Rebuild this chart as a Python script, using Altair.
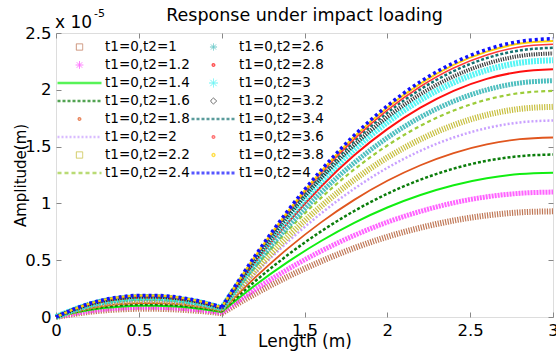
import altair as alt
import pandas as pd

# ---------------- data (amplitude in units of 1e-5 m) ----------------
X_GRID = [0, 0.1, 0.2, 0.3, 0.4, 0.5, 0.6, 0.7, 0.8, 0.9, 1.0,
          1.2, 1.4, 1.6, 1.8, 2.0, 2.2, 2.4, 2.6, 2.8, 3.0]

SERIES = ["t1=0,t2=1", "t1=0,t2=1.2", "t1=0,t2=1.4", "t1=0,t2=1.6",
          "t1=0,t2=1.8", "t1=0,t2=2", "t1=0,t2=2.2", "t1=0,t2=2.4",
          "t1=0,t2=2.6", "t1=0,t2=2.8", "t1=0,t2=3", "t1=0,t2=3.2",
          "t1=0,t2=3.4", "t1=0,t2=3.6", "t1=0,t2=3.8", "t1=0,t2=4"]

AMP_T2_1_0 = [0, 0.024, 0.045, 0.059, 0.068, 0.072, 0.072, 0.068, 0.060, 0.049, 0.033, 0.203, 0.356, 0.490, 0.607, 0.706, 0.786, 0.849, 0.894, 0.921, 0.930]
AMP_T2_1_2 = [0, 0.029, 0.053, 0.070, 0.080, 0.085, 0.085, 0.081, 0.071, 0.058, 0.039, 0.241, 0.421, 0.580, 0.718, 0.835, 0.930, 1.005, 1.058, 1.089, 1.100]
AMP_T2_1_4 = [0, 0.034, 0.061, 0.081, 0.093, 0.099, 0.099, 0.094, 0.083, 0.067, 0.044, 0.277, 0.485, 0.669, 0.829, 0.964, 1.074, 1.160, 1.221, 1.258, 1.270]
AMP_T2_1_6 = [0, 0.038, 0.069, 0.091, 0.104, 0.111, 0.111, 0.105, 0.093, 0.075, 0.050, 0.312, 0.547, 0.754, 0.933, 1.085, 1.209, 1.306, 1.375, 1.416, 1.430]
AMP_T2_1_8 = [0, 0.042, 0.076, 0.101, 0.116, 0.123, 0.123, 0.117, 0.103, 0.084, 0.055, 0.345, 0.604, 0.833, 1.031, 1.199, 1.336, 1.443, 1.519, 1.565, 1.580]
AMP_T2_2_0 = [0, 0.046, 0.083, 0.110, 0.126, 0.134, 0.134, 0.127, 0.113, 0.091, 0.061, 0.378, 0.662, 0.912, 1.129, 1.313, 1.463, 1.580, 1.663, 1.713, 1.730]
AMP_T2_2_2 = [0, 0.049, 0.089, 0.118, 0.135, 0.144, 0.144, 0.137, 0.121, 0.098, 0.065, 0.404, 0.708, 0.975, 1.207, 1.404, 1.564, 1.689, 1.779, 1.832, 1.850]
AMP_T2_2_4 = [0, 0.052, 0.095, 0.126, 0.145, 0.154, 0.154, 0.146, 0.129, 0.105, 0.070, 0.435, 0.761, 1.049, 1.299, 1.510, 1.683, 1.817, 1.913, 1.971, 1.990]
AMP_T2_2_6 = [0, 0.055, 0.100, 0.132, 0.151, 0.161, 0.161, 0.153, 0.135, 0.109, 0.073, 0.454, 0.796, 1.097, 1.357, 1.578, 1.759, 1.899, 2.000, 2.060, 2.080]
AMP_T2_2_8 = [0, 0.057, 0.105, 0.139, 0.159, 0.169, 0.169, 0.161, 0.142, 0.115, 0.076, 0.476, 0.833, 1.149, 1.423, 1.654, 1.843, 1.991, 2.096, 2.159, 2.180]
AMP_T2_3_0 = [0, 0.060, 0.109, 0.144, 0.165, 0.175, 0.175, 0.166, 0.147, 0.119, 0.079, 0.493, 0.864, 1.191, 1.475, 1.715, 1.911, 2.064, 2.173, 2.238, 2.260]
AMP_T2_3_2 = [0, 0.061, 0.112, 0.148, 0.169, 0.180, 0.180, 0.171, 0.151, 0.122, 0.081, 0.506, 0.887, 1.223, 1.514, 1.760, 1.962, 2.118, 2.230, 2.298, 2.320]
AMP_T2_3_4 = [0, 0.063, 0.114, 0.151, 0.173, 0.184, 0.184, 0.175, 0.155, 0.125, 0.083, 0.518, 0.906, 1.249, 1.547, 1.798, 2.004, 2.164, 2.279, 2.347, 2.370]
AMP_T2_3_6 = [0, 0.063, 0.115, 0.153, 0.175, 0.186, 0.186, 0.177, 0.156, 0.126, 0.084, 0.524, 0.918, 1.265, 1.566, 1.821, 2.029, 2.192, 2.307, 2.377, 2.400]
AMP_T2_3_8 = [0, 0.064, 0.117, 0.155, 0.178, 0.189, 0.189, 0.180, 0.159, 0.129, 0.085, 0.531, 0.929, 1.281, 1.586, 1.844, 2.055, 2.219, 2.336, 2.407, 2.430]
AMP_T2_4_0 = [0, 0.065, 0.118, 0.156, 0.179, 0.190, 0.190, 0.181, 0.160, 0.129, 0.086, 0.535, 0.937, 1.292, 1.599, 1.859, 2.072, 2.237, 2.355, 2.426, 2.450]

X_TICKS = [0, 0.5, 1, 1.5, 2, 2.5, 3]
Y_TICKS = [0, 0.5, 1, 1.5, 2, 2.5]

ALL_AMPS = [AMP_T2_1_0, AMP_T2_1_2, AMP_T2_1_4, AMP_T2_1_6, AMP_T2_1_8, AMP_T2_2_0,
            AMP_T2_2_2, AMP_T2_2_4, AMP_T2_2_6, AMP_T2_2_8, AMP_T2_3_0, AMP_T2_3_2,
            AMP_T2_3_4, AMP_T2_3_6, AMP_T2_3_8, AMP_T2_4_0]

rows = []
for name, amps in zip(SERIES, ALL_AMPS):
    for xv, yv in zip(X_GRID, amps):
        rows.append({"series": name, "x": xv, "y": yv, "seg": "a" if xv <= 1 else "b"})
        if xv == 1.0:
            rows.append({"series": name, "x": xv, "y": yv, "seg": "b"})
df = pd.DataFrame(rows)

# ---------------- styles ----------------
FONT = "DejaVu Sans"
AXC = "#888888"
ASTER = "M-1,0L1,0M0,-1L0,1M-0.7,-0.7L0.7,0.7M-0.7,0.7L0.7,-0.7"
LINE_LEN = 1936  # stroke symbol length^2

# color, legend shape, legend size, legend dash, legend stroke width, plot line style
STYLE = {
    "t1=0,t2=1":   ("#b5603a", "square", 40, [1, 0], 1, dict(strokeWidth=6, strokeDash=[1.2, 1.3], opacity=0.85)),
    "t1=0,t2=1.2": ("#ff3cff", ASTER, 60, [1, 0], 1, dict(strokeWidth=5, strokeDash=[2, 1], opacity=0.8)),
    "t1=0,t2=1.4": ("#11ee11", "stroke", LINE_LEN, [1, 0], 2.5, dict(strokeWidth=2)),
    "t1=0,t2=1.6": ("#0a7d0a", "stroke", LINE_LEN, [3, 2], 2.5, dict(strokeWidth=2.5, strokeDash=[3, 2])),
    "t1=0,t2=1.8": ("#e0561e", "circle", 6, [1, 0], 1.5, dict(strokeWidth=1.8)),
    "t1=0,t2=2":   ("#c9a0ff", "stroke", LINE_LEN, [2, 2], 2.5, dict(strokeWidth=2.5, strokeDash=[2, 2])),
    "t1=0,t2=2.2": ("#bdb41c", "square", 40, [1, 0], 1, dict(strokeWidth=6, strokeDash=[1.2, 1.3], opacity=0.85)),
    "t1=0,t2=2.4": ("#9ccc3a", "stroke", LINE_LEN, [4, 3], 2.5, dict(strokeWidth=2.2, strokeDash=[4, 3])),
    "t1=0,t2=2.6": ("#2fb4b4", ASTER, 50, [1, 0], 1, dict(strokeWidth=5, strokeDash=[2, 1], opacity=0.85)),
    "t1=0,t2=2.8": ("#ff1010", "circle", 6, [1, 0], 1.5, dict(strokeWidth=2)),
    "t1=0,t2=3":   ("#2af2f2", ASTER, 80, [1, 0], 1, dict(strokeWidth=6, strokeDash=[2, 1], opacity=0.8)),
    "t1=0,t2=3.2": ("#1a1a1a", "diamond", 40, [1, 0], 1, dict(strokeWidth=4, strokeDash=[1.2, 1.2], opacity=0.85)),
    "t1=0,t2=3.4": ("#157272", "stroke", LINE_LEN, [3, 2], 2.5, dict(strokeWidth=2.5, strokeDash=[3, 2])),
    "t1=0,t2=3.6": ("#ff3a3a", "circle", 6, [1, 0], 1.5, dict(strokeWidth=1.5)),
    "t1=0,t2=3.8": ("#ffd200", "circle", 8, [1, 0], 1.5, dict(strokeWidth=2)),
    "t1=0,t2=4":   ("#1010ff", "stroke", LINE_LEN, [3, 2], 3, dict(strokeWidth=3.5, strokeDash=[3, 3])),
}

# legend: two columns (Vega fills them column by column)
ORDER = SERIES

color_scale = alt.Scale(domain=ORDER, range=[STYLE[s][0] for s in ORDER])
shape_scale = alt.Scale(domain=ORDER, range=[STYLE[s][1] for s in ORDER])
size_scale = alt.Scale(type="ordinal", domain=ORDER, range=[STYLE[s][2] for s in ORDER])
dash_scale = alt.Scale(domain=ORDER, range=[STYLE[s][3] for s in ORDER])
sw_scale = alt.Scale(type="ordinal", domain=ORDER, range=[STYLE[s][4] for s in ORDER])

xs = alt.Scale(domain=[0, 3], nice=False, zero=False)
ys = alt.Scale(domain=[0, 2.5], nice=False)

leg = alt.Legend(title=None, orient="none", legendX=0, legendY=5, columns=2,
                 columnPadding=-10, rowPadding=0, clipHeight=18, padding=0,
                 labelFont=FONT, labelFontSize=13.5, labelColor="black",
                 labelOffset=2, symbolOffset=0)

base = alt.Chart(df)

# legend carrier + main axes (no marks drawn)
carrier = base.transform_filter("false").mark_point(filled=False).encode(
    x=alt.X("x:Q", scale=xs, axis=alt.Axis(
        values=X_TICKS, format="~g", labelFont=FONT, labelFontSize=16.5,
        labelColor="black", labelPadding=5, ticks=False, domain=False, grid=False,
        labelFlush=False, labelOverlap=False,
        title="Length (m)", titleFont=FONT, titleFontSize=17, titleFontWeight="normal",
        titleColor="black", titleY=29, titleBaseline="alphabetic")),
    y=alt.Y("y:Q", scale=ys, axis=alt.Axis(
        values=Y_TICKS, format="~g", labelFont=FONT, labelFontSize=16.5,
        labelColor="black", labelPadding=5, ticks=False, domain=False, grid=False,
        labelFlush=False, labelOverlap=False,
        title="Amplitude(m)", titleFont=FONT, titleFontSize=15, titleFontWeight="normal",
        titleColor="black", titleX=-31, titleBaseline="alphabetic")),
    color=alt.Color("series:N", scale=color_scale, legend=leg),
    shape=alt.Shape("series:N", scale=shape_scale, legend=leg),
    size=alt.Size("series:N", scale=size_scale, legend=leg),
    strokeDash=alt.StrokeDash("series:N", scale=dash_scale, legend=leg),
    strokeWidth=alt.StrokeWidth("series:N", scale=sw_scale, legend=leg),
)

# line layers, one per series, drawn in order
line_layers = []
for s in SERIES:
    st = STYLE[s][5]
    line_layers.append(
        base.transform_filter(alt.datum.series == s)
        .mark_line(interpolate="monotone", color=STYLE[s][0], **st)
        .encode(
            x=alt.X("x:Q", scale=xs, axis=None),
            y=alt.Y("y:Q", scale=ys, axis=None),
            detail="seg:N",
        )
    )

def tick_axis(orient, vals):
    return alt.Axis(orient=orient, values=vals, offset=-5, tickSize=5, labels=False,
                    domain=False, grid=False, title=None, tickColor=AXC, ticks=True)

ticks_bl = base.mark_point(opacity=0).encode(
    x=alt.X("x:Q", scale=xs, axis=tick_axis("bottom", X_TICKS)),
    y=alt.Y("y:Q", scale=ys, axis=tick_axis("left", Y_TICKS)),
)
ticks_tr = base.mark_point(opacity=0).encode(
    x=alt.X("x:Q", scale=xs, axis=tick_axis("top", X_TICKS)),
    y=alt.Y("y:Q", scale=ys, axis=tick_axis("right", Y_TICKS)),
)

TITLE = ["Response under impact loading"]
title_txt = alt.Chart(pd.DataFrame({"t": TITLE})).mark_text(
    font=FONT, fontSize=17.5, align="center", baseline="alphabetic", color="black"
).encode(text="t:N", x=alt.value(248.5), y=alt.value(-12))

exp_main = alt.Chart(pd.DataFrame({"t": ["x 10"]})).mark_text(
    font=FONT, fontSize=17, align="left", baseline="alphabetic", color="black"
).encode(text="t:N", x=alt.value(-1), y=alt.value(-5))
exp_sup = alt.Chart(pd.DataFrame({"t": ["-5"]})).mark_text(
    font=FONT, fontSize=11, align="left", baseline="alphabetic", color="black"
).encode(text="t:N", x=alt.value(38), y=alt.value(-16))

chart = alt.layer(carrier, *line_layers, ticks_bl, ticks_tr, title_txt, exp_main, exp_sup).resolve_axis(
    x="independent", y="independent"
).properties(
    width=497, height=284,
    padding={"left": 56, "top": 33, "right": 3, "bottom": 35},
    autosize=alt.AutoSizeParams(type="none"),
).configure_view(stroke=AXC, strokeWidth=1).configure(background="white")

chart.save("out.html", embed_options={"renderer": "svg", "actions": False})
